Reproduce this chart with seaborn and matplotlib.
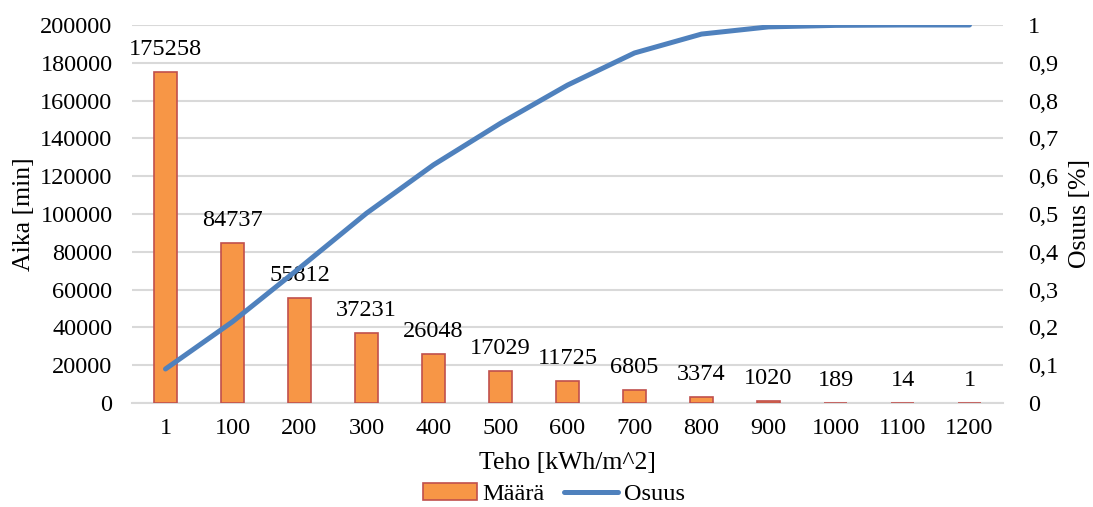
import matplotlib
matplotlib.use("Agg")
import matplotlib.pyplot as plt
import seaborn as sns
import numpy as np
from matplotlib.patches import Patch
from matplotlib.lines import Line2D
from matplotlib.ticker import FuncFormatter

categories = ["1", "100", "200", "300", "400", "500", "600", "700", "800", "900", "1000", "1100", "1200"]
maara = [175258, 84737, 55812, 37231, 26048, 17029, 11725, 6805, 3374, 1020, 189, 14, 1]
osuus = [0.09, 0.215, 0.357, 0.502, 0.63, 0.74, 0.841, 0.926, 0.976, 0.995, 0.999, 1.0, 1.0]
left_ticks = list(range(0, 200001, 20000))
right_ticks = [round(i * 0.1, 1) for i in range(11)]

sns.set_theme(style="white")
plt.rcParams['font.family'] = ['Liberation Serif', 'DejaVu Serif']
plt.rcParams['text.color'] = 'black'
plt.rcParams['axes.labelcolor'] = 'black'
plt.rcParams['xtick.color'] = 'black'
plt.rcParams['ytick.color'] = 'black'

FS = 17.5
LFS = 18.5
fig = plt.figure(figsize=(10.93, 5.07), dpi=100)
fig.subplots_adjust(left=132/1093, right=1003/1093, top=1-25/507, bottom=1-403/507)
ax = fig.add_subplot(111)

bar_color = "#F79646"
edge_color = "#C0504D"
line_color = "#4F81BD"
grid_color = "#D9D9D9"

sns.barplot(x=categories, y=maara, order=categories, color=bar_color, edgecolor=edge_color,
            linewidth=1.2, width=0.33, saturation=1, ax=ax, zorder=3)
ax.set_xlim(-0.5, len(categories) - 0.5)
ax.set_ylim(0, 200000)
ax.set_yticks(left_ticks)
ax.yaxis.grid(True, color=grid_color, linewidth=1.5, zorder=0)
ax.set_axisbelow(True)
for s in ["top", "right", "left"]:
    ax.spines[s].set_visible(False)
ax.spines["bottom"].set_color(grid_color)
ax.spines["bottom"].set_linewidth(1.5)
ax.tick_params(axis="both", length=0, labelsize=FS, colors="black")
ax.tick_params(axis="x", pad=11)
ax.tick_params(axis="y", pad=14)
ax.set_xlabel("Teho [kWh/m^2]", fontsize=LFS, labelpad=9)
ax.set_ylabel("Aika [min]", fontsize=LFS, labelpad=4)

for i, v in enumerate(maara):
    ax.annotate(str(v), (i, v), xytext=(0, 8.5), textcoords="offset points",
                ha="center", va="bottom", fontsize=FS, color="black")

ax2 = ax.twinx()
sns.lineplot(x=list(range(len(categories))), y=osuus, color=line_color, linewidth=3.6,
             ax=ax2, sort=False, solid_capstyle="round", zorder=5)
ax2.set_ylim(0, 1)
ax2.set_yticks(right_ticks)
ax2.yaxis.set_major_formatter(FuncFormatter(lambda v, p: ("%g" % round(v, 1)).replace(".", ",")))
for s in ["top", "right", "left", "bottom"]:
    ax2.spines[s].set_visible(False)
ax2.tick_params(axis="y", length=0, labelsize=FS, pad=18, colors="black")
ax2.set_ylabel("Osuus [%]", fontsize=LFS, labelpad=8)
ax2.grid(False)
ax.set_xlim(-0.5, len(categories) - 0.5)

handles = [Patch(facecolor=bar_color, edgecolor=edge_color, linewidth=1.2),
           Line2D([0], [0], color=line_color, linewidth=3.6)]
fig.legend(handles, ["Määrä", "Osuus"], loc="center", bbox_to_anchor=(554/1093, 1-494/507),
           ncol=2, frameon=False, fontsize=FS, handlelength=2.2, handletextpad=0.25,
           columnspacing=0.8, handleheight=0.7)

fig.savefig("out.png", dpi=100)
